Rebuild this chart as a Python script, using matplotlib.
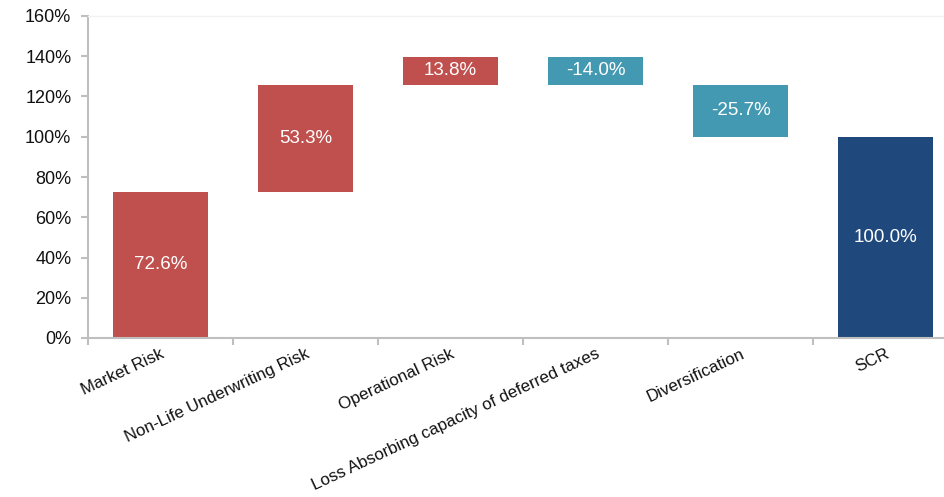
import matplotlib.pyplot as plt
import numpy as np

plt.rcParams['font.family'] = ['Liberation Sans', 'DejaVu Sans']

categories = ["Market Risk", "Non-Life Underwriting Risk", "Operational Risk",
              "Loss Absorbing capacity of deferred taxes", "Diversification", "SCR"]
values = [72.6, 53.3, 13.8, -14.0, -25.7, 100.0]
is_total = [False, False, False, False, False, True]

red = "#C0504D"
teal = "#4399B1"
navy = "#1F497D"

# waterfall: each step starts where the previous one ended, total starts at 0
bottoms = []
heights = []
colors = []
running = 0.0
for v, tot in zip(values, is_total):
    if tot:
        bottoms.append(0)
        heights.append(v)
        colors.append(navy)
    else:
        if v >= 0:
            bottoms.append(running)
            colors.append(red)
        else:
            bottoms.append(running + v)
            colors.append(teal)
        heights.append(abs(v))
        running += v

fig = plt.figure(figsize=(9.44, 4.97), dpi=100)
ax = fig.add_axes([88 / 944, 1 - 338 / 497, (944 - 88) / 944, (338 - 16) / 497])

x = np.arange(len(categories))
ax.bar(x, heights, bottom=bottoms, width=0.66, color=colors, edgecolor="none")

for xi, b, h, v in zip(x, bottoms, heights, values):
    ax.text(xi, b + h / 2, f"{v:.1f}%", ha="center", va="center",
            color="white", fontsize=13.5)

ax.set_yticks(range(0, 161, 20))
ax.set_yticklabels([f"{t}%" for t in range(0, 161, 20)], fontsize=13, color="#111111")

# category labels at centers, ticks at the boundaries
ax.set_xticks(x)
ax.set_xticklabels(categories, rotation=25, ha="right", rotation_mode="anchor",
                   fontsize=12.2, color="#111111")
ax.tick_params(axis="x", length=0, pad=6)
ax.set_xticks(np.arange(-0.5, 6, 1), minor=True)
ax.tick_params(axis="x", which="minor", length=5, width=1.5, color="#BFBFBF", direction="out")
ax.tick_params(axis="y", length=5, width=1.5, color="#BFBFBF", pad=7)

ax.set_ylim(0, 160)
ax.set_xlim(-0.5, 5.403)

ax.spines["right"].set_visible(False)
ax.spines["top"].set_color("#F2F2F2")
ax.spines["top"].set_linewidth(1)
for s in ["left", "bottom"]:
    ax.spines[s].set_color("#BFBFBF")
    ax.spines[s].set_linewidth(1.5)

fig.savefig("out.png", dpi=100)
